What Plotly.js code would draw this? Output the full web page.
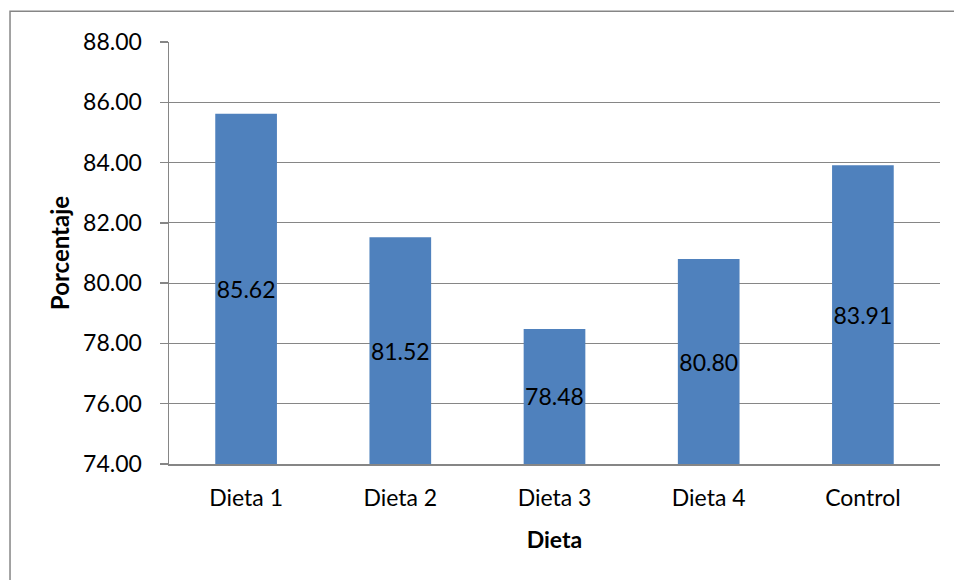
<!DOCTYPE html>
<html>
<head>
<meta charset="utf-8">
<script src="https://cdn.plot.ly/plotly-3.0.1.min.js"></script>
<style>
  html, body { margin: 0; padding: 0; background: #fff; }
  #chart { width: 954px; height: 580px; }
</style>
</head>
<body>
<div id="chart"></div>
<script>
// Porcentaje por dieta
const categories = ['Dieta 1', 'Dieta 2', 'Dieta 3', 'Dieta 4', 'Control'];
const porcentaje = [85.62, 81.52, 78.48, 80.80, 83.91];
const yTickValues = [74, 76, 78, 80, 82, 84, 86, 88];

const Y_MIN = 74;
const FONT = 'Lato, "Open Sans", sans-serif';
const GRID = '#868686';

// Bars rise from the bottom of the value axis so the labels sit in their middle
const bars = {
  type: 'bar',
  x: categories,
  y: porcentaje.map(v => v - Y_MIN),
  base: Y_MIN,
  marker: { color: '#4F81BD' },
  text: porcentaje.map(v => v.toFixed(2)),
  textposition: 'inside',
  insidetextanchor: 'middle',
  constraintext: 'none',
  textangle: 0,
  textfont: { family: FONT, size: 23, color: '#000' },
  hoverinfo: 'x+text'
};

const layout = {
  width: 954,
  height: 580,
  margin: { l: 169, r: 14, t: 42, b: 116 },
  paper_bgcolor: '#fff',
  plot_bgcolor: '#fff',
  bargap: 0.6,
  showlegend: false,
  font: { family: FONT, size: 23, color: '#000' },
  xaxis: {
    type: 'category',
    showline: true,
    linecolor: GRID,
    linewidth: 1.5,
    ticks: '',
    ticklabelstandoff: 13,
    tickfont: { family: FONT, size: 23, color: '#000' },
    title: { text: '<b>Dieta</b>', font: { family: FONT, size: 23, color: '#000' }, standoff: 22 }
  },
  yaxis: {
    range: [Y_MIN, 88],
    tickvals: yTickValues,
    ticktext: yTickValues.map(v => v.toFixed(2)),
    showgrid: true,
    gridcolor: GRID,
    gridwidth: 1.2,
    zeroline: false,
    showline: true,
    linecolor: GRID,
    linewidth: 1.5,
    ticks: 'outside',
    ticklen: 8,
    tickcolor: GRID,
    tickwidth: 1.5,
    ticklabelstandoff: 13,
    tickfont: { family: FONT, size: 23, color: '#000' },
    title: { text: '<b>Porcentaje</b>', font: { family: FONT, size: 24, color: '#000' }, standoff: 6 }
  },
  shapes: [{
    type: 'rect',
    xref: 'paper', yref: 'paper',
    x0: -0.2062, x1: 1.2,
    y0: -0.5, y1: 1.0727,
    line: { color: GRID, width: 1.5 },
    fillcolor: 'rgba(0,0,0,0)',
    layer: 'below'
  }]
};

Plotly.newPlot('chart', [bars], layout, { displayModeBar: false, staticPlot: true });
</script>
</body>
</html>
